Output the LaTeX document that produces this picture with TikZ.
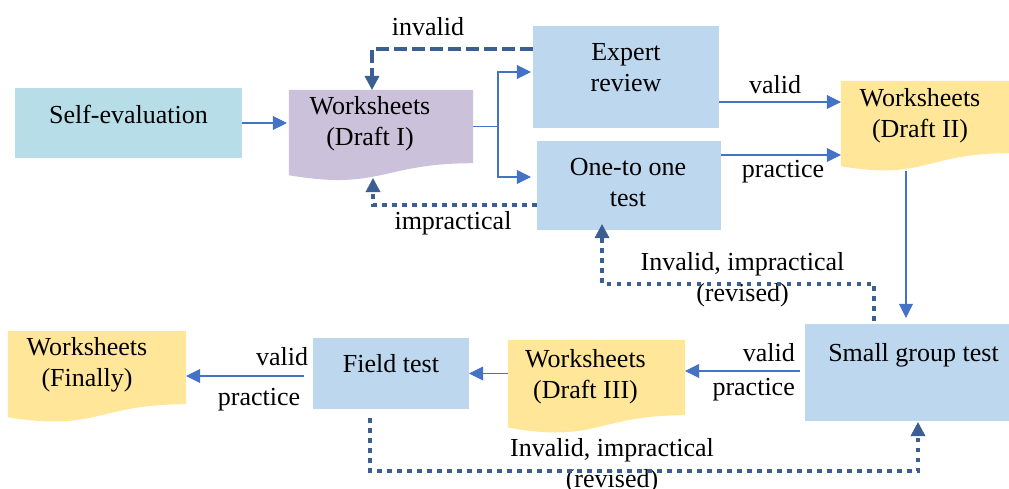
\documentclass[tikz,border=0pt]{standalone}
\usepackage{fontspec}
\setmainfont{Liberation Serif}
\usetikzlibrary{arrows.meta,calc,backgrounds}
\definecolor{boxblue}{HTML}{BDD7EE}
\definecolor{boxteal}{HTML}{B7DEE8}
\definecolor{boxlav}{HTML}{CCC1DA}
\definecolor{boxyel}{HTML}{FFE699}
\definecolor{arrblue}{HTML}{4472C4}
\definecolor{fbblue}{HTML}{3C5F91}
\tikzset{
  txt/.style={font=\fontsize{26}{31}\selectfont, align=center, inner sep=0pt, text=black},
  box/.style={rectangle, inner sep=0pt, fill=#1},
  docbox/.style={rectangle, inner sep=0pt},
  plain/.style={draw=arrblue, line width=1.8pt},
  arr/.style={draw=arrblue, line width=1.8pt, -{Triangle[length=14pt,width=14pt,line width=0.5pt]}},
  fbdash/.style={draw=fbblue, line width=4pt, dash pattern=on 13pt off 5pt, -{Triangle[length=14pt,width=15pt,line width=0.5pt]}},
  fbdot/.style={draw=fbblue, line width=4pt, dash pattern=on 4.5pt off 5.5pt, -{Triangle[length=14pt,width=15pt,line width=0.5pt]}},
}
\begin{document}
\begin{tikzpicture}[x=1pt,y=-1pt]
\useasboundingbox (0,0) rectangle (1009,488);

% boxes
\node[box=boxteal, minimum width=227pt, minimum height=70pt,
  label={[txt,yshift=9pt]center:Self-evaluation}] (se) at (128.5,123) {};
\node[docbox, minimum width=184pt, minimum height=73pt,
  label={[txt,xshift=-11pt,yshift=2.5pt]center:{Worksheets\\(Draft I)}}] (d1) at (381,126.5) {};
\node[box=boxblue, minimum width=186pt, minimum height=102pt,
  label={[txt,yshift=9pt]center:{Expert\\review}}] (er) at (626,77) {};
\node[box=boxblue, minimum width=184pt, minimum height=89pt,
  label={[txt,xshift=-1pt,yshift=3pt]center:{One-to one\\test}}] (ot) at (629,185.5) {};
\node[docbox, minimum width=168pt, minimum height=72pt,
  label={[txt,xshift=-5pt,yshift=1pt]center:{Worksheets\\(Draft II)}}] (d2) at (925,117) {};
\node[box=boxblue, minimum width=204pt, minimum height=97pt,
  label={[txt,xshift=6.5pt,yshift=17.5pt]center:Small group test}] (sg) at (907,372.5) {};
\node[docbox, minimum width=177pt, minimum height=75pt,
  label={[txt,xshift=-11pt,yshift=1pt]center:{Worksheets\\(Draft III)}}] (d3) at (596.5,377.5) {};
\node[box=boxblue, minimum width=156pt, minimum height=71pt,
  label={[txt,yshift=9.5pt]center:Field test}] (ft) at (391,373.5) {};
\node[docbox, minimum width=178pt, minimum height=73pt,
  label={[txt,xshift=-10pt,yshift=3pt]center:{Worksheets\\(Finally)}}] (fin) at (97,367.5) {};

% document shape fills
\begin{scope}[on background layer]
\fill[boxlav] (d1.north west) -- (d1.north east) -- (d1.south east)
  .. controls (d1.south) and ($(d1.south)+(0,27.7)$) .. ($(d1.south west)+(0,12)$) -- cycle;
\fill[boxyel] (d2.north west) -- (d2.north east) -- (d2.south east)
  .. controls (d2.south) and ($(d2.south)+(0,27.4)$) .. ($(d2.south west)+(0,13)$) -- cycle;
\fill[boxyel] (d3.north west) -- (d3.north east) -- (d3.south east)
  .. controls (d3.south) and ($(d3.south)+(0,28.5)$) .. ($(d3.south west)+(0,12.3)$) -- cycle;
\fill[boxyel] (fin.north west) -- (fin.north east) -- (fin.south east)
  .. controls (fin.south) and ($(fin.south)+(0,27.7)$) .. ($(fin.south west)+(0,13)$) -- cycle;
\end{scope}

% connector labels
\node[txt] (linv) at (428,27) {invalid};
\node[txt] (limp) at (453,223) {impractical};
\node[txt] (lv1) at (775,85) {valid};
\node[txt] (lp1) at (783,172) {practice};
\node[txt] (lrev1) at (742.5,280) {Invalid, impractical\\(revised)};
\node[txt,anchor=east] (lv2) at (795,353) {valid};
\node[txt,anchor=east] (lp2) at (795,390) {practice};
\node[txt] (lv3) at (282,357) {valid};
\node[txt] (lp3) at (259,400) {practice};
\node[txt] (lrev2) at (612,466) {Invalid, impractical\\(revised)};

% solid connectors
\draw[arr, shorten >=2pt] (se.east) -- (se.east -| d1.west);
\coordinate (fork) at ($(d1.east)+(25,0)$);
\draw[plain] (d1.east) -- (fork);
\draw[arr, shorten >=2pt] (fork) |- ([yshift=5pt]er.west);
\draw[arr, shorten >=6pt] (fork) |- ([yshift=8.5pt]ot.west);
\coordinate (erout) at ([yshift=-25pt]er.east);
\draw[arr] (erout) -- (erout -| d2.west);
\coordinate (otout) at ([yshift=30.5pt]ot.east);
\draw[arr] (otout) -- (otout -| d2.west);
\coordinate (d2out) at ([shift={(-19pt,-18pt)}]d2.south);
\draw[arr, shorten >=6pt] (d2out) -- (d2out |- sg.north);
\coordinate (sgout) at ([shift={(-5pt,1.5pt)}]sg.west);
\draw[arr] (sgout) -- (sgout -| d3.east);
\draw[arr] (d3.west |- ft.east) -- (ft.east);
\coordinate (ftout) at ([shift={(-9pt,-2.5pt)}]ft.west);
\draw[arr] (ftout) -- (ftout -| fin.east);

% feedback connectors
\coordinate (erfb) at ([yshift=28pt]er.west);
\draw[fbdash] (erfb) -| ([xshift=-9pt]d1.north);
\coordinate (otfb) at ([yshift=-19.5pt]ot.west);
\draw[fbdot] (otfb) -| ([shift={(-8pt,-15pt)}]d1.south);
\coordinate (sgfb) at ([shift={(-33pt,3pt)}]sg.north);
\draw[fbdot] (sgfb) -- ++(0,-37) -| ([shift={(-27pt,6pt)}]ot.south);
\coordinate (ftfb) at ([shift={(-21pt,-9pt)}]ft.south);
\draw[fbdot] (ftfb) -- ++(0,53) -| ([shift={(11pt,-1pt)}]sg.south);
\end{tikzpicture}
\end{document}
